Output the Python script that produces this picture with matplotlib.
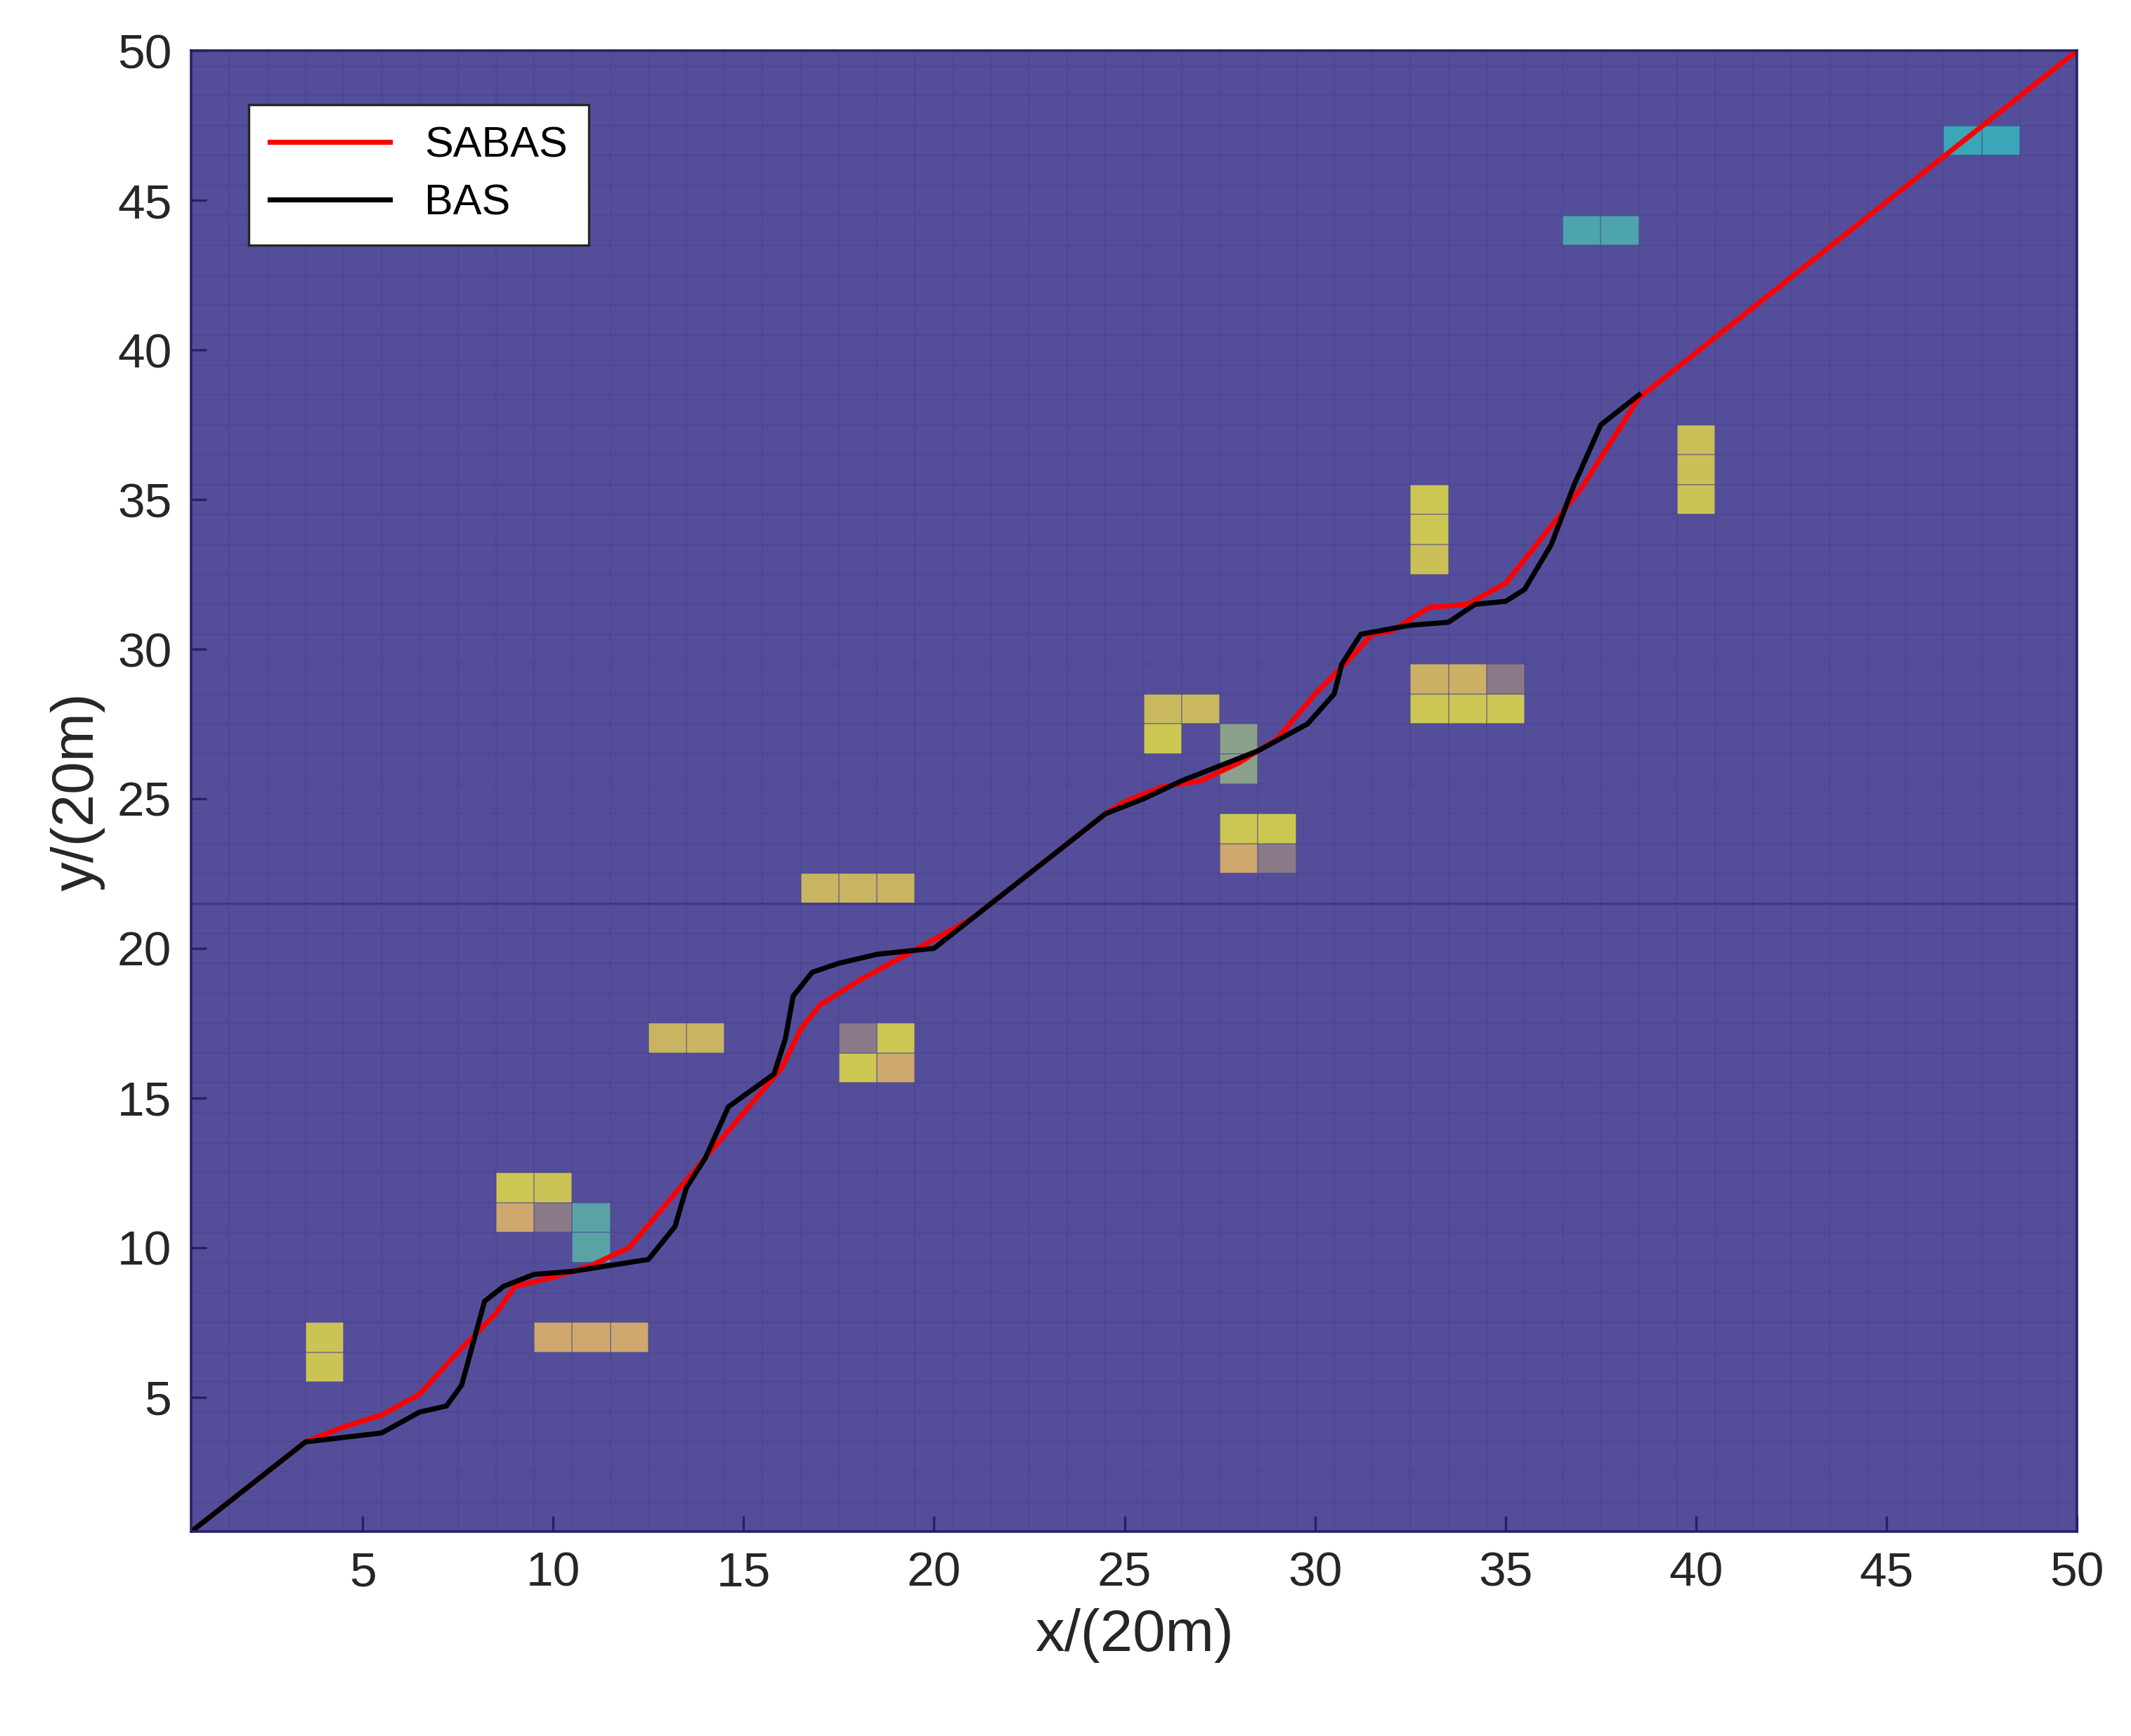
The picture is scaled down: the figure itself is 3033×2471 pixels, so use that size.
import numpy as np
import matplotlib
matplotlib.use("Agg")
import matplotlib.pyplot as plt
from matplotlib.colors import LinearSegmentedColormap

plt.rcParams["font.family"] = "Liberation Sans"

# obstacle cells (x, y, value)
obs_x = [4, 4, 9, 10, 9, 10, 11, 11, 10, 11, 12, 13, 14, 17, 18, 19, 18, 19, 18, 19,
         26, 27, 26, 28, 28, 28, 29, 28, 29, 33, 33, 33, 33, 34, 35, 33, 34, 35,
         40, 40, 40, 37, 38, 47, 48]
obs_y = [6, 7, 12, 12, 11, 11, 11, 10, 7, 7, 7, 17, 17, 22, 22, 22, 17, 17, 16, 16,
         28, 28, 27, 27, 26, 24, 24, 23, 23, 35, 34, 33, 29, 29, 29, 28, 28, 28,
         37, 36, 35, 44, 44, 47, 47]
obs_v = [0.95, 0.95, 0.97, 0.95, 0.80, 0.45, 0.30, 0.30, 0.80, 0.80, 0.80, 0.88, 0.88, 0.88, 0.88, 0.88,
         0.45, 0.97, 0.97, 0.80, 0.90, 0.90, 0.97, 0.55, 0.55, 0.97, 0.97, 0.80, 0.45,
         0.97, 0.97, 0.93, 0.85, 0.85, 0.45, 0.97, 0.97, 0.97, 0.93, 0.93, 0.95, 0.28, 0.28, 0.25, 0.25]

sabas_x = [0.5, 3.5, 4.5, 5.5, 6.5, 7.5, 8.5, 9.0, 10.0, 11.0, 12.0, 13.0, 14.0, 15.0, 16.0, 16.5, 17.0,
           18.0, 19.0, 20.0, 21.0, 24.5, 25.0, 26.0, 27.0, 28.0, 29.0, 30.0, 31.0, 31.5, 32.0,
           33.0, 34.0, 35.0, 36.0, 37.0, 38.5, 50.0]
sabas_y = [0.5, 3.5, 4.0, 4.4, 5.1, 6.5, 7.8, 8.7, 9.0, 9.4, 10.0, 11.5, 13.0, 14.5, 16.0, 17.3, 18.1,
           18.9, 19.6, 20.3, 21.0, 24.5, 24.9, 25.4, 25.6, 26.2, 27.0, 28.5, 29.8, 30.5, 30.6,
           31.4, 31.5, 32.2, 33.8, 35.4, 38.4, 50.0]
bas_x = [0.5, 3.5, 5.5, 6.5, 7.2, 7.6, 8.2, 8.7, 9.5, 10.5, 12.5, 13.2, 13.5, 14.0, 14.6, 15.8, 16.1,
         16.3, 16.8, 17.5, 18.5, 20.0, 20.5, 24.5, 25.5, 26.5, 28.5, 29.8, 30.5, 30.7, 31.2, 32.5,
         33.5, 34.2, 35.0, 35.5, 36.2, 36.8, 37.5, 38.5]
bas_y = [0.5, 3.5, 3.8, 4.5, 4.7, 5.4, 8.2, 8.7, 9.1, 9.2, 9.6, 10.7, 12.0, 13.0, 14.7, 15.8, 17.0,
         18.4, 19.2, 19.5, 19.8, 20.0, 20.5, 24.5, 25.0, 25.6, 26.6, 27.5, 28.5, 29.5, 30.5, 30.8,
         30.9, 31.5, 31.6, 32.0, 33.5, 35.5, 37.5, 38.5]

xticks = [5, 10, 15, 20, 25, 30, 35, 40, 45, 50]
yticks = [5, 10, 15, 20, 25, 30, 35, 40, 45, 50]

Z = np.zeros((50, 50))
for x, y, v in zip(obs_x, obs_y, obs_v):
    Z[y - 1, x - 1] = v

cmap = LinearSegmentedColormap.from_list("p", [
    (0.0, "#544e9a"), (0.25, "#3aa6b8"), (0.30, "#5ba3a3"), (0.45, "#8a7a88"),
    (0.55, "#8aa08a"), (0.80, "#cea86e"), (0.88, "#c9b462"), (0.93, "#cbbe58"), (1.0, "#cccc50")])

fig = plt.figure(figsize=(15.165, 12.355), dpi=200)
ax = fig.add_axes([0.0897, 0.1177, 0.885, 0.853])
edges = np.arange(0.5, 51.5, 1.0)
ax.pcolormesh(edges, edges, Z, cmap=cmap, vmin=0, vmax=1, edgecolor="none", antialiased=False)
for e in edges:
    ax.axvline(e, color="#48438f", lw=0.6, alpha=0.6)
    ax.axhline(e, color="#48438f", lw=0.6, alpha=0.6)
ax.axhline(21.5, color="#3e3a88", lw=1.2)

ax.plot(sabas_x, sabas_y, color="red", lw=2.6, label="SABAS")
ax.plot(bas_x, bas_y, color="black", lw=2.6, label="BAS")

ax.set_xlim(0.5, 50)
ax.set_ylim(0.5, 50)
ax.set_xticks(xticks)
ax.set_yticks(yticks)
ax.tick_params(direction="in", length=8, width=1.2, labelsize=25, colors="#262262", labelcolor="#262626", pad=10)
for s in ax.spines.values():
    s.set_color("#262262")
    s.set_linewidth(1.3)
ax.set_xlabel("x/(20m)", fontsize=30, color="#262626", labelpad=6)
ax.set_ylabel("y/(20m)", fontsize=30, color="#262626", labelpad=6)

leg = ax.legend(loc="upper left", bbox_to_anchor=(0.019, 0.978), fontsize=22, fancybox=False,
                framealpha=1, edgecolor="#262626", handlelength=2.8, borderpad=0.5, labelspacing=0.4)
leg.get_frame().set_linewidth(1.2)

fig.savefig("out.png", dpi=200)
